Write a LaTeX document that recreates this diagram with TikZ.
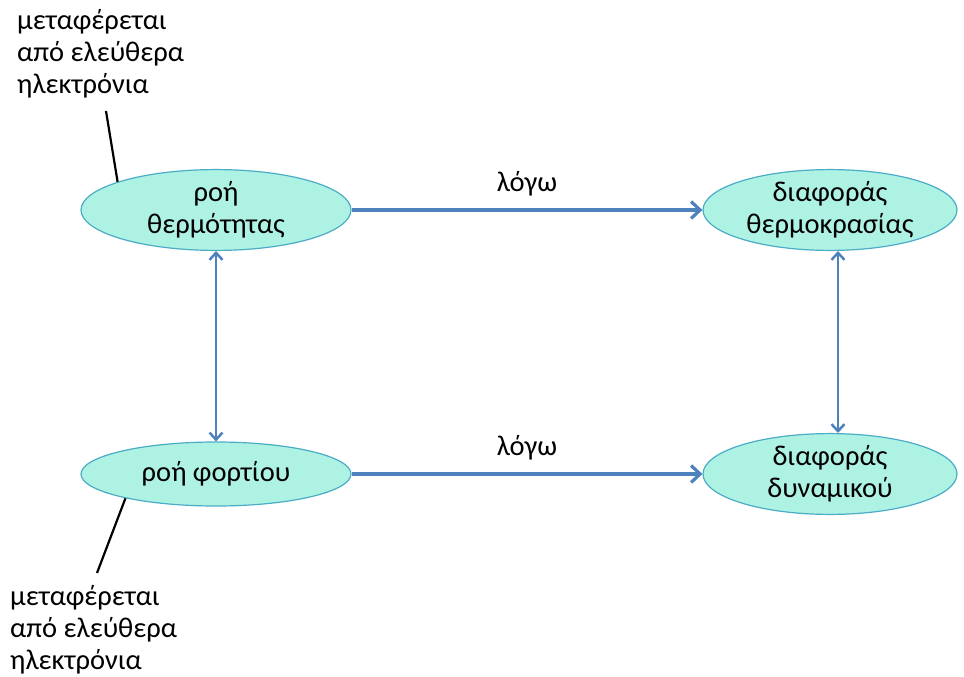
\documentclass[tikz,border=0pt]{standalone}
\usepackage{fontspec}
\setmainfont{Carlito}
\usetikzlibrary{shapes.geometric,arrows.meta}
\definecolor{bubblefill}{HTML}{AEF2E4}
\definecolor{bubbleline}{HTML}{4BACC6}
\definecolor{linkblue}{HTML}{4F81BD}
\tikzset{
  bubble/.style={ellipse, draw=bubbleline, line width=1.2pt, fill=bubblefill,
    align=center, inner sep=0pt, font=\fontsize{28.5}{32.5}\selectfont},
  mainlink/.style={draw=linkblue, line width=4.5pt, -{Straight Barb[length=9pt,width=17pt,line width=3.2pt]}},
  sidelink/.style={draw=linkblue, line width=2.8pt, {Straight Barb[length=7pt,width=13pt,line width=2.5pt]}-{Straight Barb[length=7pt,width=13pt,line width=2.5pt]}},
  pointer/.style={draw=black, line width=2.2pt},
  note/.style={align=left, anchor=north west, inner sep=0pt, font=\fontsize{28.5}{32}\selectfont},
  reason/.style={font=\fontsize{28.5}{32}\selectfont, inner sep=0pt}
}
\begin{document}
\begin{tikzpicture}[x=1pt,y=-1pt]
\useasboundingbox (0,0) rectangle (964,677);
% four quantities
\node[bubble, minimum width=270pt, minimum height=66pt] (heat) at (216,210) {ροή\\θερμότητας};
\node[bubble, minimum width=254pt, minimum height=66pt] (dtemp) at (830,210) {διαφοράς\\θερμοκρασίας};
\node[bubble, minimum width=270pt, minimum height=64pt] (charge) at (216,474) {ροή φορτίου};
\node[bubble, minimum width=254pt, minimum height=66pt] (dpot) at (830,474) {διαφοράς\\δυναμικού};
% horizontal causes
\draw[mainlink] (heat.east) -- (dtemp.west) node[reason, midway, above=12pt] {λόγω};
\draw[mainlink] (charge.east) -- (dpot.west) node[reason, midway, above=12pt] {λόγω};
% vertical analogies
\draw[sidelink] (heat.south) -- (charge.north);
\coordinate (dtb) at ([xshift=8pt]dtemp.south);
\coordinate (dpt) at ([xshift=8pt]dpot.north);
\draw[sidelink] (dtb) -- (dpt);
% annotations
\node[note] (topnote) at (17,9) {μεταφέρεται\\από ελεύθερα\\ηλεκτρόνια};
\node[note] (botnote) at (10,585) {μεταφέρεται\\από ελεύθερα\\ηλεκτρόνια};
\coordinate (tp) at (106,111);
\coordinate (bp) at (97,573);
\draw[pointer] (tp) -- (heat.164);
\draw[pointer] (bp) -- (charge.195);
\end{tikzpicture}
\end{document}
